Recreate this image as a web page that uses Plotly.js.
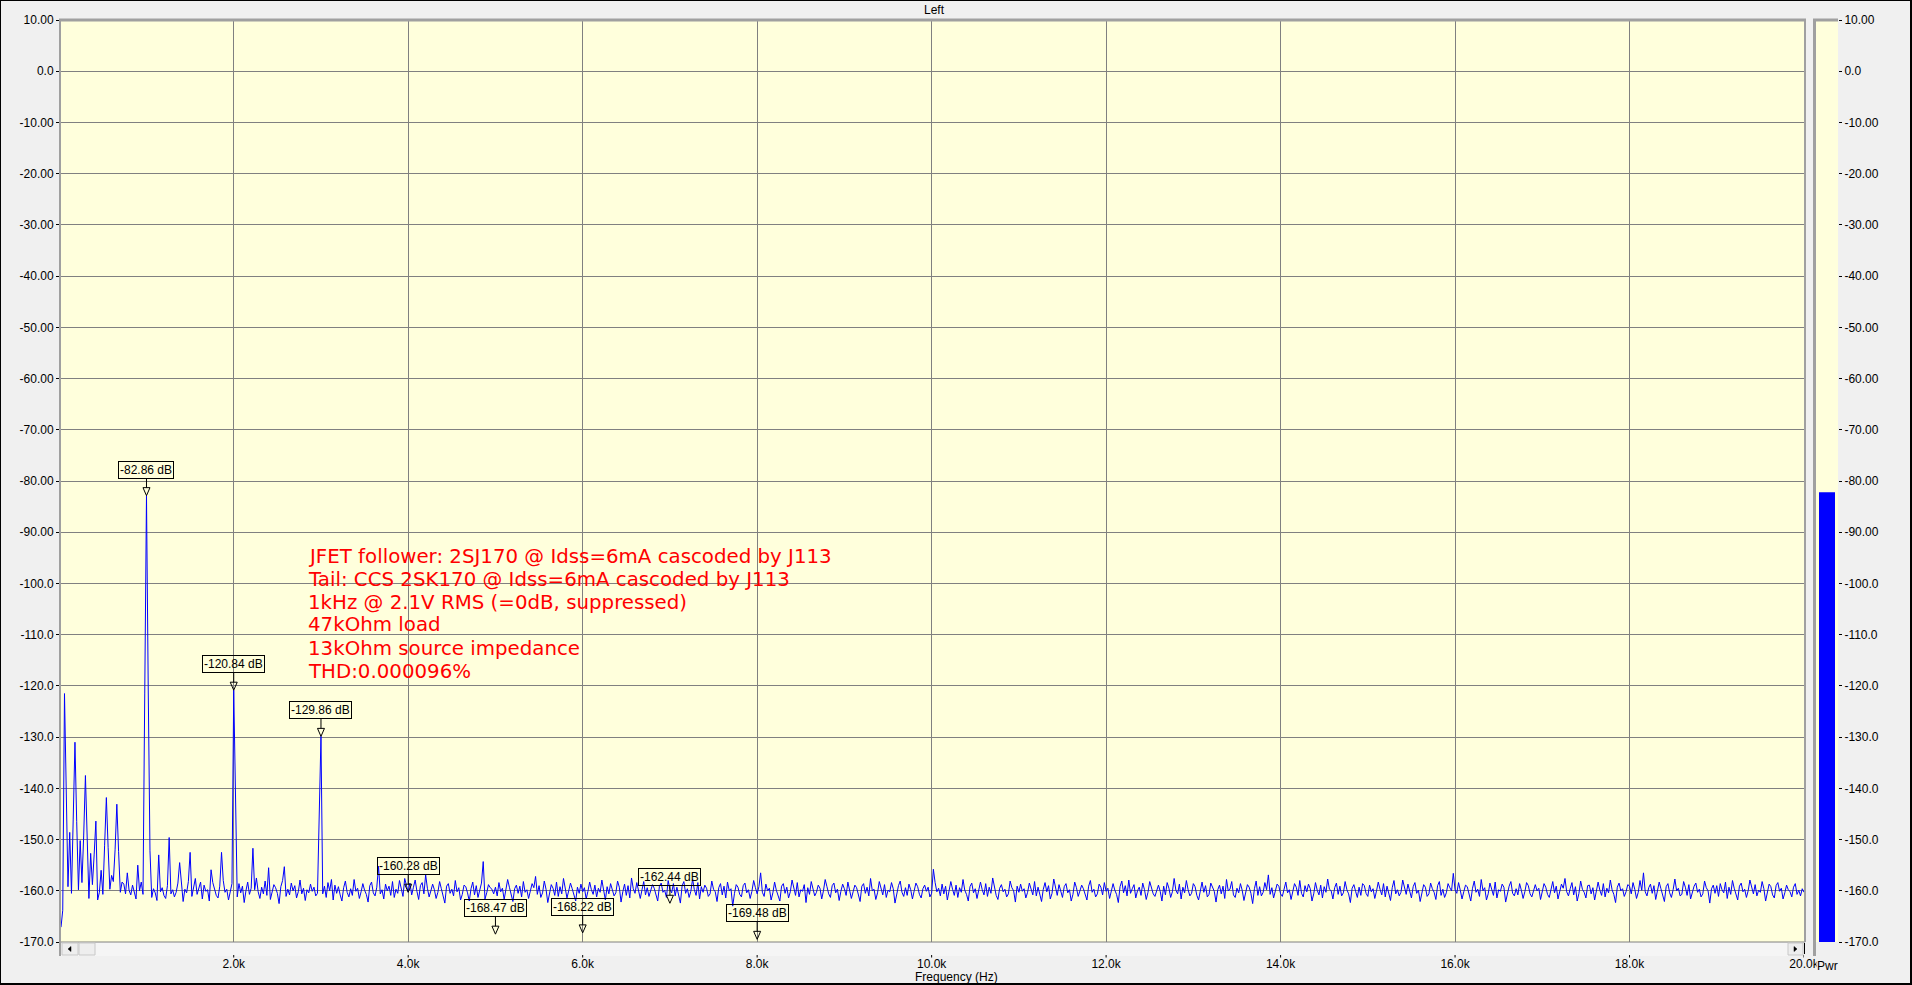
<!DOCTYPE html>
<html><head><meta charset="utf-8">
<script src="https://cdn.plot.ly/plotly-3.0.1.min.js"></script>
<style>
html,body{margin:0;padding:0;background:#F0F0F0;overflow:hidden}
#chart{position:absolute;left:0;top:0;width:1912px;height:985px}
#frame{position:absolute;left:0;top:0;width:1912px;height:985px;box-sizing:border-box;border-left:1px solid #000;border-top:1px solid #000;border-right:2px solid #000;border-bottom:2px solid #000;pointer-events:none}
</style></head><body>
<div id="chart"></div><div id="frame"></div>
<script>
// FFT bin spacing of the spectrum (Hz); bins start at 20 Hz
const binStepHz = 20;

// Noise floor, 20 Hz .. 20 kHz (dB)
const noiseDb = [
-167.1,-163.8,-159.6,-160.8,-159.2,-161.0,-160.5,-158.9,-160.2,-161.3,
-159.8,-160.6,-158.4,-161.1,-160.0,-159.3,-161.5,-160.2,-158.8,-160.9,
-159.5,-161.8,-160.3,-159.0,-160.7,-158.6,-160.1,-161.2,-159.7,-160.4,
-158.2,-160.9,-159.4,-161.0,-160.3,-159.1,-158.7,-160.6,-161.4,-159.9,
-160.8,-158.9,-160.2,-161.6,-159.5,-160.0,-158.3,-160.7,-159.2,-160.5,
-160.1,-158.7,-161.3,-159.6,-160.4,-161.9,-158.8,-160.2,-159.4,-160.9,
-161.5,-159.0,-157.9,-160.6,-159.8,-161.2,-160.3,-158.5,-160.8,-159.3,
-162.1,-159.7,-160.4,-158.2,-160.0,-161.1,-159.5,-157.6,-160.7,-159.2,
-160.5,-161.6,-158.9,-160.1,-159.8,-162.0,-160.2,-158.4,-159.6,-160.9,
-161.4,-159.1,-160.6,-158.0,-160.3,-159.7,-161.8,-160.0,-158.6,-160.4,
-159.9,-161.2,-158.6,-160.4,-159.1,-162.3,-160.0,-158.3,-160.7,-159.5,
-161.0,-159.8,-157.5,-160.2,-161.5,-159.3,-160.6,-158.1,-160.9,-159.6,
-161.7,-160.1,-158.8,-159.4,-160.5,-162.5,-159.2,-158.0,-160.3,-161.1,
-159.7,-160.8,-158.5,-160.0,-159.0,-161.4,-160.2,-157.9,-160.6,-159.5,
-161.9,-159.8,-160.4,-158.7,-160.1,-159.3,-161.0,-160.5,-158.9,-160.2,
-160.6,-159.1,-161.3,-158.4,-160.0,-159.7,-161.8,-158.9,-160.5,-159.2,
-160.8,-162.0,-159.4,-158.1,-160.3,-161.2,-159.6,-160.9,-157.8,-160.1,
-159.5,-161.5,-160.2,-158.6,-159.9,-160.7,-162.2,-159.0,-158.3,-160.4,
-161.0,-159.3,-155.2,-160.6,-159.8,-161.6,-158.7,-160.0,-159.1,-160.9,
-158.2,-161.3,-159.7,-160.5,-158.0,-159.4,-161.1,-157.6,-159.2,-160.3,
-158.5,-160.8,-159.3,-157.9,-160.1,-161.7,-159.0,-158.4,-160.6,-156.9,
-159.5,-161.2,-160.0,-158.7,-159.8,-161.5,-160.3,-158.2,-159.6,-160.9,
-162.4,-159.1,-158.6,-160.5,-159.7,-161.0,-158.0,-160.2,-159.4,-161.8,
-160.7,-158.9,-159.2,-160.4,-162.0,-159.6,-158.3,-160.8,-159.0,-161.3,
-160.1,-158.5,-154.3,-161.6,-160.4,-158.8,-159.4,-159.7,-160.6,-159.3,
-161.0,-158.4,-160.2,-159.5,-161.7,-160.0,-157.8,-159.3,-160.8,-162.1,
-159.6,-158.9,-160.5,-159.1,-161.2,-158.2,-160.3,-159.8,-161.5,-160.1,
-158.6,-159.4,-157.2,-160.7,-159.0,-161.3,-160.4,-158.1,-159.7,-162.3,
-160.2,-158.8,-159.5,-160.9,-158.3,-161.1,-159.2,-160.6,-157.6,-159.9,
-161.4,-160.0,-158.5,-159.6,-160.8,-162.0,-159.3,-160.5,-158.7,-160.2,
-159.4,-161.6,-160.1,-158.3,-159.8,-160.7,-158.9,-161.2,-159.5,-160.3,
-157.9,-160.0,-161.8,-159.2,-160.6,-158.6,-159.7,-161.0,-160.4,-158.1,
-159.3,-162.2,-160.2,-158.7,-160.9,-159.0,-161.4,-157.5,-159.6,-160.5,
-158.4,-160.1,-161.5,-159.8,-158.2,-160.8,-159.4,-161.1,-160.0,-158.8,
-159.5,-160.6,-162.0,-159.1,-158.5,-160.3,-159.9,-161.3,-158.0,-159.7,
-160.4,-158.6,-161.0,-159.3,-160.7,-162.4,-159.0,-158.2,-160.5,-159.6,
-161.3,-160.1,-157.7,-159.8,-160.9,-158.4,-161.6,-159.2,-160.3,-158.9,
-159.5,-161.1,-160.6,-158.1,-159.7,-160.2,-162.1,-159.4,-158.6,-160.8,
-159.1,-161.4,-158.3,-160.0,-159.6,-163.0,-160.5,-158.8,-159.3,-160.7,
-161.2,-159.0,-158.5,-160.4,-159.8,-161.5,-160.1,-158.0,-159.4,-160.6,
-159.2,-156.5,-160.3,-161.1,-158.7,-160.0,-159.5,-161.8,-160.4,-158.3,
-159.9,-160.8,-162.0,-159.1,-158.6,-160.5,-159.3,-161.4,-160.2,-157.9,
-159.6,-160.9,-158.4,-161.2,-159.8,-160.1,-158.8,-162.3,-159.4,-160.7,
-158.2,-159.7,-161.0,-160.3,-158.9,-159.5,-161.6,-160.0,-157.8,-159.2,
-160.6,-161.3,-159.0,-158.5,-160.4,-159.7,-161.9,-160.1,-158.7,-159.6,
-160.9,-158.3,-159.8,-161.5,-160.2,-158.9,-159.4,-160.7,-162.1,-159.1,
-158.6,-160.5,-159.3,-161.0,-157.6,-160.0,-159.7,-161.7,-160.4,-158.2,
-159.5,-160.8,-158.8,-161.3,-159.9,-160.2,-158.4,-159.6,-162.4,-160.6,
-159.0,-158.1,-160.3,-161.1,-159.4,-160.9,-158.7,-159.8,-161.6,-160.0,
-158.5,-159.2,-160.7,-161.4,-159.6,-158.9,-160.1,-159.3,-161.2,-160.5,
-155.8,-158.4,-160.2,-159.5,-161.0,-158.7,-160.6,-159.1,-161.8,-160.0,
-158.2,-159.7,-160.9,-158.9,-161.3,-159.4,-160.3,-157.8,-159.9,-160.7,
-162.0,-159.2,-158.5,-160.4,-159.6,-161.5,-160.1,-158.3,-159.8,-160.8,
-158.6,-161.1,-159.3,-160.5,-157.5,-159.0,-160.9,-161.7,-159.5,-158.8,
-160.2,-159.7,-161.2,-160.6,-158.1,-159.4,-160.0,-162.2,-159.1,-160.3,
-158.7,-160.1,-159.6,-161.4,-160.3,-158.5,-159.9,-160.8,-158.2,-161.0,
-159.3,-160.6,-162.1,-159.7,-158.4,-160.2,-159.0,-161.6,-160.5,-157.7,
-159.5,-160.9,-158.8,-160.0,-161.3,-159.2,-158.6,-160.4,-159.8,-162.0,
-160.7,-158.3,-159.4,-161.1,-160.2,-158.9,-159.6,-160.5,-161.8,-159.1,
-158.0,-160.3,-159.7,-161.2,-160.6,-158.7,-159.3,-160.8,-158.4,-160.1,
-159.5,-161.5,-160.2,-158.6,-159.9,-160.7,-162.3,-159.2,-158.1,-160.4,
-159.0,-161.0,-157.9,-160.5,-159.6,-158.8,-161.4,-160.0,-159.3,-160.9,
-158.5,-159.8,-161.7,-160.3,-158.2,-159.4,-160.6,-161.1,-159.7,-158.9,
-160.1,-162.0,-159.1,-160.8,-158.4,-159.5,-161.3,-160.2,-157.6,-159.9,
-160.6,-158.7,-161.6,-159.3,-160.4,-158.0,-159.8,-161.0,-160.5,-158.6,
-159.2,-160.9,-161.8,-159.6,-158.3,-160.3,-159.0,-161.2,-160.7,-158.5,
-159.4,-160.1,-162.2,-159.8,-158.9,-160.6,-159.1,-161.5,-157.8,-160.0,
-159.7,-158.2,-160.8,-161.3,-159.5,-160.4,-158.6,-159.9,-161.9,-160.2,
-158.8,-159.3,-160.5,-162.5,-159.6,-158.1,-160.9,-159.2,-161.0,-160.3,
-158.4,-159.8,-156.9,-160.7,-159.4,-161.4,-160.0,-158.7,-159.1,-160.6,
-161.1,-159.5,-158.3,-160.4,-159.8,-161.7,-160.1,-158.6,-159.3,-160.9,
-158.0,-160.5,-161.2,-159.0,-160.2,-158.7,-159.6,-162.0,-160.6,-158.4,
-159.9,-160.8,-158.9,-161.4,-159.2,-160.3,-157.7,-159.7,-160.0,-161.6,
-159.4,-158.5,-160.7,-159.1,-161.0,-160.4,-158.2,-159.8,-160.6,-162.3,
-159.5,-158.8,-160.1,-161.3,-159.3,-160.9,-158.6,-159.0,-160.5,-161.1,
-158.9,-160.2,-159.6,-161.5,-160.0,-158.3,-159.7,-160.8,-158.6,-161.2,
-159.1,-160.4,-161.9,-159.4,-158.0,-160.6,-159.8,-161.0,-160.3,-157.9,
-159.5,-160.7,-158.7,-160.1,-161.4,-159.2,-158.4,-160.5,-159.9,-162.1,
-160.2,-158.8,-159.3,-161.1,-160.6,-158.5,-159.6,-160.3,-161.7,-159.0,
-158.2,-160.9,-159.7,-161.3,-160.4,-158.6,-159.4,-160.0,-156.6,-159.8,
-160.5,-158.4,-159.9,-161.6,-160.2,-158.9,-159.2,-160.7,-162.0,-159.5,
-158.1,-160.3,-159.7,-161.1,-157.8,-160.0,-159.4,-161.8,-160.6,-158.5,
-159.6,-160.9,-158.3,-161.4,-159.8,-160.1,-158.7,-159.3,-162.2,-160.4,
-159.1,-158.2,-160.5,-161.0,-159.6,-160.8,-158.6,-159.9,-161.5,-160.2,
-158.4,-159.0,-160.6,-161.2,-159.7,-158.8,-160.0,-159.5,-161.7,-160.3,
-158.6,-159.3,-160.7,-161.3,-159.8,-158.2,-160.4,-159.1,-161.6,-160.0,
-158.7,-159.5,-157.6,-160.2,-161.0,-159.6,-158.4,-160.8,-159.2,-162.0,
-160.5,-158.1,-159.7,-160.3,-161.4,-159.0,-158.9,-160.6,-159.4,-161.8,
-160.1,-158.3,-159.9,-160.9,-158.6,-161.2,-159.5,-160.4,-157.9,-159.8,
-160.7,-162.3,-159.3,-158.5,-160.0,-159.6,-161.1,-160.2,-158.8,-159.1,
-160.6,-158.4,-159.7,-161.5,-160.3,-158.0,-159.9,-156.5,-160.2,-161.0,
-159.4,-158.7,-160.5,-159.0,-161.7,-160.1,-158.3,-159.6,-160.8,-162.1,
-159.2,-158.6,-160.4,-161.3,-159.8,-157.7,-160.0,-159.5,-161.0,-160.7,
-158.2,-159.3,-160.9,-158.8,-161.6,-160.2,-159.1,-158.5,-160.3,-159.7,
-161.2,-160.6,-158.1,-159.4,-160.0,-162.4,-159.6,-158.9,-160.5,-159.0,
-161.1,-158.6,-159.8,-160.4,-158.3,-161.5,-159.3,-160.7,-158.0,-159.5,
-160.9,-161.8,-159.1,-158.5,-160.2,-159.7,-161.3,-160.0,-157.9,-159.4,
-160.6,-158.8,-161.0,-159.9,-160.3,-158.2,-159.6,-162.0,-160.5,-158.7,
-159.2,-160.8,-161.4,-159.0,-158.4,-160.1,-159.5,-161.6,-160.4,-158.9,
-159.8,-160.2,-161.2,-159.3,-158.6,-160.7,-159.9,-161.0,-159.6,-160.3
];

// Mains spurs, residual fundamental and harmonics
const spurHz = [60,80,120,160,180,200,240,280,300,320,
  360,400,420,480,520,540,560,600,640,660,
  680,720,780,900,980,1000,1020,1040,1140,1260,
  1380,1500,1620,1740,1860,2000,2020,2220,2400,2580,
  2980,3000,3120];
const spurDb = [-121.5,-141.2,-148.6,-146.0,-131.0,-146.5,-150.2,-149.3,-137.5,-149.5,
  -152.7,-153.0,-146.4,-156.0,-151.1,-141.8,-151.5,-157.0,-152.0,-143.1,
  -152.3,-158.3,-156.5,-155.0,-121.4,-82.86,-120.8,-152.2,-153.0,-149.6,
  -154.5,-152.5,-158.3,-155.9,-152.5,-120.84,-141.0,-151.7,-155.5,-155.3,
  -145.5,-129.86,-157.8];

// Harmonic markers
const markerHz = [1000,2000,3000,4000,5000,6000,7000,8000];
const markerDb = [-82.86,-120.84,-129.86,-160.28,-168.47,-168.22,-162.44,-169.48];

// Level meter ("Pwr") reading
const meterDb = [-82.2];

// Axis ticks
const xTickVals = [2000,4000,6000,8000,10000,12000,14000,16000,18000,20000];
const xTickText = ['2.0k','4.0k','6.0k','8.0k','10.0k','12.0k','14.0k','16.0k','18.0k','20.0k'];
const yTickVals = [10,0,-10,-20,-30,-40,-50,-60,-70,-80,-90,-100,-110,-120,-130,-140,-150,-160,-170];
const yTickText = ['10.00','0.0','-10.00','-20.00','-30.00','-40.00','-50.00','-60.00','-70.00','-80.00','-90.00','-100.0','-110.0','-120.0','-130.0','-140.0','-150.0','-160.0','-170.0'];

const noteLines = [
  'JFET follower: 2SJ170 @ Idss=6mA cascoded by J113',
  'Tail: CCS 2SK170 @ Idss=6mA cascoded by J113',
  '1kHz @ 2.1V RMS (=0dB, suppressed)',
  '47kOhm load',
  '13kOhm source impedance',
  'THD:0.000096%'
];

// ---- build series ----
const freqHz = noiseDb.map((_, i) => (i + 1) * binStepHz);
const levelDb = noiseDb.slice();
spurHz.forEach((f, k) => { levelDb[Math.round(f / binStepHz) - 1] = spurDb[k]; });
const yMin = -170, yMax = 10;

// ---- geometry ----
const W = 1912, H = 985, mL = 61, mR = 74, mT = 20, mB = 29;
const PW = W - mL - mR, PH = H - mT - mB;
const px = x => (x - mL) / PW;
const py = y => (H - mB - y) / PH;
const yDom = [py(942), 1];
const tickFont = {family: 'Liberation Sans, Arial, sans-serif', size: 12, color: '#000'};

const traces = [
  {type: 'scatter', mode: 'lines', x: freqHz, y: levelDb, xaxis: 'x', yaxis: 'y',
   line: {color: '#0000FF', width: 1}, hoverinfo: 'skip', showlegend: false},
  {type: 'bar', x: [11], y: meterDb.map(v => v - yMin), base: [yMin], width: [16], xaxis: 'x3', yaxis: 'y2',
   marker: {color: '#0000FF', line: {width: 0}}, hoverinfo: 'skip', showlegend: false}
];

const shapes = [];
const gray = '#A0A0A0';
// scrollbar
shapes.push({type: 'rect', xref: 'paper', yref: 'paper', x0: px(61), x1: px(1804), y0: py(956), y1: py(942), fillcolor: '#F5F5F5', line: {width: 0}, layer: 'above'});
shapes.push({type: 'line', xref: 'paper', yref: 'paper', x0: px(61), x1: px(1805), y0: py(942), y1: py(942), line: {color: '#808080', width: 1}, layer: 'above'});
[[62, 78], [79, 95], [1788, 1803]].forEach(b => {
  shapes.push({type: 'rect', xref: 'paper', yref: 'paper', x0: px(b[0]), x1: px(b[1]), y0: py(955), y1: py(943), fillcolor: '#EEEEEE', line: {color: '#C8C8C8', width: 1}, layer: 'above'});
});
shapes.push({type: 'path', xref: 'paper', yref: 'paper', path: `M${px(71)},${py(946.5)} L${px(68)},${py(949)} L${px(71)},${py(951.5)} Z`, fillcolor: '#000', line: {color: '#000', width: 0.5}, layer: 'above'});
shapes.push({type: 'path', xref: 'paper', yref: 'paper', path: `M${px(1794)},${py(946.5)} L${px(1797)},${py(949)} L${px(1794)},${py(951.5)} Z`, fillcolor: '#000', line: {color: '#000', width: 0.5}, layer: 'above'});
// x tick marks below the scrollbar
xTickVals.forEach(v => {
  shapes.push({type: 'line', xref: 'x', yref: 'paper', x0: v, x1: v, y0: py(955), y1: py(957.5), line: {color: '#000', width: 1}, layer: 'above'});
});
// plot borders
shapes.push({type: 'line', xref: 'paper', yref: 'paper', x0: px(59), x1: px(1806), y0: py(20), y1: py(20), line: {color: gray, width: 3}, layer: 'above'});
shapes.push({type: 'line', xref: 'paper', yref: 'paper', x0: px(60), x1: px(60), y0: py(19), y1: py(956), line: {color: gray, width: 2}, layer: 'above'});
shapes.push({type: 'line', xref: 'paper', yref: 'paper', x0: px(1805), x1: px(1805), y0: py(20), y1: py(942), line: {color: gray, width: 2}, layer: 'above'});
// meter panel borders
shapes.push({type: 'line', xref: 'paper', yref: 'paper', x0: px(1814.5), x1: px(1814.5), y0: py(19), y1: py(956), line: {color: gray, width: 3}, layer: 'above'});
shapes.push({type: 'line', xref: 'paper', yref: 'paper', x0: px(1813), x1: px(1838), y0: py(20), y1: py(20), line: {color: gray, width: 3}, layer: 'above'});
// marker triangles
markerHz.forEach((f, i) => {
  shapes.push({type: 'path', xref: 'x', yref: 'y', xsizemode: 'pixel', ysizemode: 'pixel', xanchor: f, yanchor: markerDb[i],
    path: 'M-3.5,8 L3.5,8 L0,0 Z', fillcolor: 'rgba(0,0,0,0)', line: {color: '#000', width: 1}, layer: 'above'});
});

const annotations = [];
markerHz.forEach((f, i) => {
  annotations.push({x: f, y: markerDb[i], xref: 'x', yref: 'y', text: markerDb[i].toFixed(2) + ' dB',
    showarrow: true, arrowhead: 0, arrowwidth: 1, arrowcolor: '#000', ax: 0, ay: -26, standoff: 8,
    bordercolor: '#000', borderwidth: 1, borderpad: 1, bgcolor: 'rgba(0,0,0,0)', font: tickFont});
});
noteLines.forEach((t, i) => {
  annotations.push({xref: 'paper', yref: 'paper', x: px(307), y: py(556 + 23 * i), xanchor: 'left', yanchor: 'middle',
    text: t, showarrow: false, borderpad: 0, font: {family: 'DejaVu Sans, sans-serif', size: 19.8, color: '#FF0000'}});
});
annotations.push({xref: 'paper', yref: 'paper', x: px(956), y: py(977.5), xanchor: 'center', yanchor: 'middle',
  text: 'Frequency (Hz)', showarrow: false, font: tickFont});
annotations.push({xref: 'paper', yref: 'paper', x: px(1816), y: py(965.5), xanchor: 'left', yanchor: 'middle',
  text: 'Pwr', showarrow: false, bgcolor: '#F0F0F0', borderpad: 0, font: tickFont});

const layout = {
  width: W, height: H,
  margin: {l: mL, r: mR, t: mT, b: mB, pad: 0},
  paper_bgcolor: '#F0F0F0', plot_bgcolor: '#FFFFDC',
  showlegend: false,
  title: {text: 'Left', font: tickFont, xref: 'container', x: 934 / W, xanchor: 'center', yref: 'container', y: 1 - 9.5 / H, yanchor: 'middle'},
  xaxis: {domain: [0, px(1804)], range: [20, 20000], anchor: 'y', tickmode: 'array', tickvals: xTickVals, ticktext: xTickText,
    ticks: 'outside', ticklen: 11, tickcolor: '#000', tickwidth: 1, tickfont: tickFont,
    showgrid: true, gridcolor: '#808080', gridwidth: 1, zeroline: false, showline: false, fixedrange: true},
  yaxis: {domain: yDom, range: [yMin, yMax], anchor: 'x', tickmode: 'array', tickvals: yTickVals, ticktext: yTickText,
    ticks: 'outside', ticklen: 4, tickcolor: '#000', tickwidth: 1, tickfont: tickFont,
    showgrid: true, gridcolor: '#808080', gridwidth: 1, zeroline: false, showline: false, fixedrange: true},
  xaxis3: {domain: [px(1816), 1], range: [0, 22], anchor: 'y2', visible: false, fixedrange: true},
  yaxis2: {domain: yDom, range: [yMin, yMax], anchor: 'x3', side: 'right', tickmode: 'array', tickvals: yTickVals, ticktext: yTickText,
    ticks: 'outside', ticklen: 3, tickcolor: '#000', tickwidth: 1, tickfont: tickFont,
    showgrid: false, zeroline: false, showline: false, fixedrange: true},
  shapes: shapes,
  annotations: annotations
};

Plotly.newPlot('chart', traces, layout, {displayModeBar: false, staticPlot: true});
</script>
</body></html>
